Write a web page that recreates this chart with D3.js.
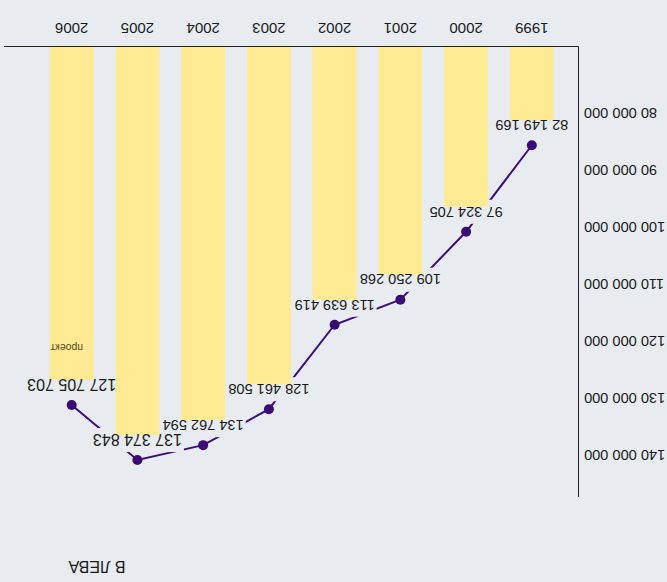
<!DOCTYPE html>
<html>
<head>
<meta charset="utf-8">
<script src="https://cdn.jsdelivr.net/npm/d3@7"></script>
<style>
  html, body { margin: 0; padding: 0; background: #e8ecf1; }
  svg { display: block; }
  text { font-family: "Liberation Sans", Arial, sans-serif; }
</style>
</head>
<body>
<svg id="chart" width="667" height="582"></svg>
<script>
// ---- data ----
const years = ["1999", "2000", "2001", "2002", "2003", "2004", "2005", "2006"];
const values = [82149169, 97324705, 109250268, 113639419, 128461508, 134762594, 137374843, 127705703];
const yTickValues = [80000000, 90000000, 100000000, 110000000, 120000000, 130000000, 140000000];
const yTickLabels = ["80 000 000", "90 000 000", "100 000 000", "110 000 000", "120 000 000", "130 000 000", "140 000 000"];
const noteYears = ["2006"];
const noteTexts = ["проект"];
const unitLabel = "В ЛЕВА";

// ---- layout ----
const W = 667, H = 582;
const baseY = 535.5, axisX = 88.5, axisTop = 85, axisRight = 663;
const svg = d3.select("#chart");
svg.append("rect").attr("width", W).attr("height", H).attr("fill", "#e8ecf1");

// whole chart is drawn upside-down
const g = svg.append("g").attr("transform", `rotate(180 ${W / 2} ${H / 2})`);

const x = d3.scaleBand().domain(years).range([102.3, 628.2]).paddingInner(0.332).paddingOuter(0.166);
const y = d3.scaleLinear().domain([80000000, 140000000]).range([469, 127]);
const fmt = v => d3.format(",")(v).replace(/,/g, " ");
const data = years.map((yr, i) => ({ year: yr, value: values[i], i }));
const cx = d => x(d.year) + x.bandwidth() / 2;
const pointOffset = -20;

// layer groups in drawing order
const lineG = g.append("g");
const maskG = g.append("g");
const barsG = g.append("g");
const textG = g.append("g");
const noteG = g.append("g");
const pointG = g.append("g");
const axisG = g.append("g");

// line
const line = d3.line().x(cx).y(d => y(d.value) + pointOffset);
lineG.append("path").datum(data)
  .attr("d", line).attr("fill", "none")
  .attr("stroke", "#3c0e7a").attr("stroke-width", 2);

// value labels
const labelSize = d => (d.i >= 6 ? 16 : 14.6);
const texts = textG.selectAll("text").data(data).join("text")
  .attr("x", cx).attr("y", d => y(d.value)).attr("dy", "0.36em")
  .attr("text-anchor", "middle").attr("font-size", labelSize)
  .attr("fill", "#1a1a1a").text(d => fmt(d.value));

// label backgrounds mask the line
texts.each(function (d) {
  const b = this.getBBox();
  const c = y(d.value);
  maskG.append("rect")
    .attr("x", b.x - 2).attr("width", b.width + 4)
    .attr("y", c - 12).attr("height", 24)
    .attr("fill", "#e8ecf1");
});

// bars
barsG.selectAll("rect").data(data).join("rect")
  .attr("x", d => x(d.year)).attr("width", x.bandwidth())
  .attr("y", d => y(d.value) + 5)
  .attr("height", d => baseY - (y(d.value) + 5))
  .attr("fill", "#fdea92");

// note inside bar
noteYears.forEach((yr, k) => {
  const d = data.find(e => e.year === yr);
  noteG.append("text")
    .attr("x", cx(d) + 5).attr("y", y(d.value) + 37).attr("dy", "0.35em")
    .attr("text-anchor", "middle").attr("font-size", 10.5)
    .attr("fill", "#5a4c1c").text(noteTexts[k]);
});

// points
pointG.selectAll("circle").data(data).join("circle")
  .attr("cx", cx).attr("cy", d => y(d.value) + pointOffset)
  .attr("r", 5).attr("fill", "#3a0a75");

// axis lines
axisG.append("line").attr("x1", axisX).attr("x2", axisRight).attr("y1", baseY).attr("y2", baseY)
  .attr("stroke", "#222").attr("stroke-width", 1);
axisG.append("line").attr("x1", axisX).attr("x2", axisX).attr("y1", axisTop).attr("y2", baseY)
  .attr("stroke", "#222").attr("stroke-width", 1);

// y tick labels
const yAxis = d3.axisLeft(y).tickValues(yTickValues)
  .tickFormat((v, i) => yTickLabels[i]).tickSize(0).tickPadding(0);
const ya = axisG.append("g").attr("transform", "translate(83,0)").call(yAxis);
ya.select(".domain").remove();
ya.selectAll("text").attr("font-size", 14.6).attr("fill", "#1a1a1a")
  .attr("font-family", "Liberation Sans, Arial, sans-serif");

// x labels
const xAxis = d3.axisBottom(x).tickSize(0).tickPadding(0);
const xa = axisG.append("g").attr("transform", `translate(0,${baseY + 13})`).call(xAxis);
xa.select(".domain").remove();
xa.selectAll("text").attr("font-size", 15).attr("fill", "#1a1a1a")
  .attr("font-family", "Liberation Sans, Arial, sans-serif");

// unit label
axisG.append("text").attr("x", 570).attr("y", 15).attr("dy", "0.36em")
  .attr("text-anchor", "middle").attr("font-size", 16)
  .attr("fill", "#1a1a1a").text(unitLabel);
</script>
</body>
</html>
